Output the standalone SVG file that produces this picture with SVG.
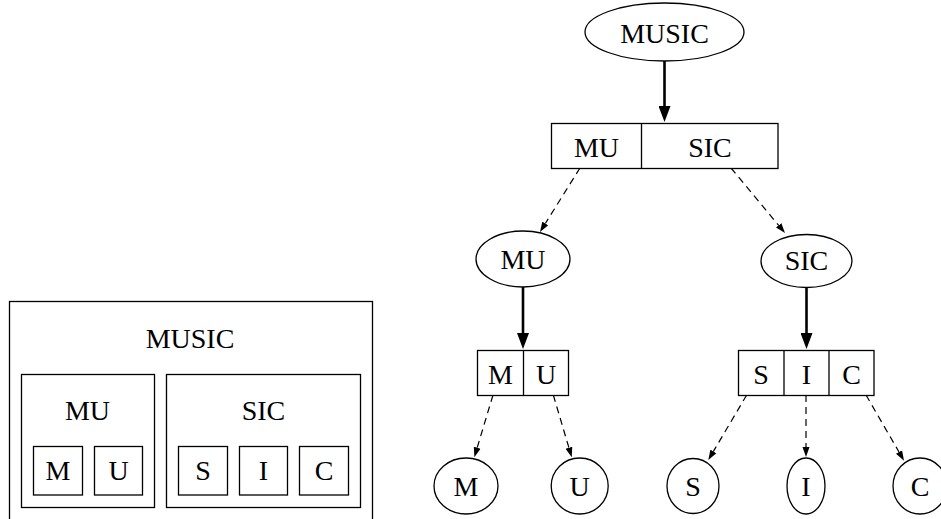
<svg xmlns="http://www.w3.org/2000/svg" width="941" height="519" viewBox="0 0 941 519">
<defs>
<style>
text{font-family:"Liberation Serif","Times New Roman",serif;font-size:28px;fill:#000;text-anchor:middle}
.n{fill:#fff;stroke:#000;stroke-width:1.3}
.thick{stroke:#000;stroke-width:2.6;fill:none}
.dash{stroke:#000;stroke-width:1.2;fill:none;stroke-dasharray:7,5}
</style>
<marker id="big" markerUnits="userSpaceOnUse" markerWidth="16" markerHeight="12" refX="0" refY="6" orient="auto"><path d="M0,0 L16,6 L0,12 z" fill="#000"/></marker>
<marker id="small" markerUnits="userSpaceOnUse" markerWidth="10" markerHeight="8" refX="0" refY="4" orient="auto"><path d="M0,0.5 L10,4 L0,7.5 z" fill="#000"/></marker>
</defs>
<rect width="941" height="519" fill="#fff"/>

<g id="nested">
<rect class="n" x="9.5" y="301.5" width="363" height="230"/>
<text x="190" y="348">MUSIC</text>
<rect class="n" x="21.5" y="374.5" width="133" height="133"/>
<text x="87.5" y="420">MU</text>
<rect class="n" x="166.5" y="374.5" width="194" height="133"/>
<text x="263.5" y="420">SIC</text>
<rect class="n" x="33.5" y="446.5" width="49" height="48.5"/>
<text x="58" y="480">M</text>
<rect class="n" x="94.5" y="446.5" width="48" height="48.5"/>
<text x="118.5" y="480">U</text>
<rect class="n" x="178.5" y="446.5" width="49" height="48.5"/>
<text x="203" y="480">S</text>
<rect class="n" x="239.5" y="446.5" width="48" height="48.5"/>
<text x="263.5" y="480">I</text>
<rect class="n" x="299.5" y="446.5" width="49" height="48.5"/>
<text x="324" y="480">C</text>
</g>

<g id="connectors">
<line class="thick" x1="664.5" y1="61" x2="664.5" y2="106" marker-end="url(#big)"/>
<line class="thick" x1="523" y1="287" x2="523" y2="333" marker-end="url(#big)"/>
<line class="thick" x1="806.5" y1="288" x2="806.5" y2="333" marker-end="url(#big)"/>
<line class="dash" x1="580" y1="168" x2="545.3" y2="223.5" marker-end="url(#small)"/>
<line class="dash" x1="731" y1="168" x2="778.6" y2="225.3" marker-end="url(#small)"/>
<line class="dash" x1="493" y1="395" x2="477.2" y2="447.7" marker-end="url(#small)"/>
<line class="dash" x1="553.3" y1="395" x2="568.9" y2="447.7" marker-end="url(#small)"/>
<line class="dash" x1="746.7" y1="395" x2="713.4" y2="451.4" marker-end="url(#small)"/>
<line class="dash" x1="806" y1="395" x2="806" y2="447" marker-end="url(#small)"/>
<line class="dash" x1="866" y1="395" x2="899" y2="452" marker-end="url(#small)"/>
</g>

<g id="music">
<ellipse class="n" cx="664.5" cy="32" rx="79.5" ry="29"/>
<text x="664.5" y="43">MUSIC</text>
</g>
<g id="rec-music">
<rect class="n" x="551.5" y="123.5" width="226.5" height="45"/>
<line stroke="#000" stroke-width="1.3" x1="641.5" y1="123.5" x2="641.5" y2="168.5"/>
<text x="596.5" y="156.5">MU</text>
<text x="710" y="156.5">SIC</text>
</g>
<g id="mu">
<ellipse class="n" cx="523" cy="259" rx="47" ry="28"/>
<text x="523" y="269">MU</text>
</g>
<g id="sic">
<ellipse class="n" cx="806.5" cy="261" rx="45.5" ry="26.5"/>
<text x="806.5" y="270">SIC</text>
</g>
<g id="rec-mu">
<rect class="n" x="477.5" y="350.5" width="91" height="45"/>
<line stroke="#000" stroke-width="1.3" x1="523.5" y1="350.5" x2="523.5" y2="395.5"/>
<text x="500.5" y="383.5">M</text>
<text x="546" y="383.5">U</text>
</g>
<g id="rec-sic">
<rect class="n" x="738.5" y="350.5" width="135.5" height="45"/>
<line stroke="#000" stroke-width="1.3" x1="784" y1="350.5" x2="784" y2="395.5"/>
<line stroke="#000" stroke-width="1.3" x1="829" y1="350.5" x2="829" y2="395.5"/>
<text x="761" y="383.5">S</text>
<text x="806.5" y="383.5">I</text>
<text x="851.5" y="383.5">C</text>
</g>
<g id="leaf-m">
<ellipse class="n" cx="466" cy="486" rx="32" ry="28"/>
<text x="466" y="496">M</text>
</g>
<g id="leaf-u">
<ellipse class="n" cx="579.7" cy="486" rx="28.5" ry="28"/>
<text x="579.7" y="496">U</text>
</g>
<g id="leaf-s">
<ellipse class="n" cx="693" cy="486" rx="26" ry="27.5"/>
<text x="693" y="496">S</text>
</g>
<g id="leaf-i">
<ellipse class="n" cx="806" cy="486" rx="19" ry="28"/>
<text x="806" y="496">I</text>
</g>
<g id="leaf-c">
<ellipse class="n" cx="920" cy="486" rx="27" ry="28"/>
<text x="920" y="496">C</text>
</g>
</svg>
